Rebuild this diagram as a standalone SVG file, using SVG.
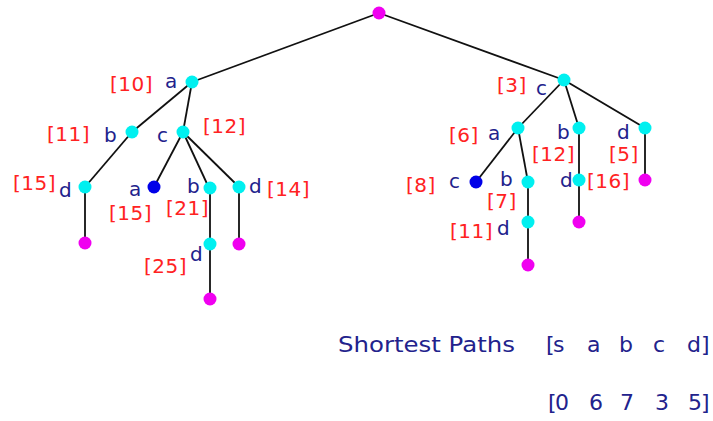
<svg xmlns="http://www.w3.org/2000/svg" width="713" height="421" viewBox="0 0 713 421">
<style>
.e{stroke:#111;stroke-width:1.8;fill:none}
.n{stroke:none}
.cy{fill:#00f0f0}
.mg{fill:#f000f0}
.bl{fill:#0000e8}
.r{font-family:"DejaVu Sans",sans-serif;font-size:20px;fill:#ff2222;letter-spacing:0.5px}
.b{font-family:"DejaVu Sans",sans-serif;font-size:20px;fill:#22228c}
.t{font-family:"DejaVu Sans",sans-serif;font-size:22px;fill:#22228c}
</style>
<rect width="713" height="421" fill="#fff"/>
<g id="edges">
<line class="e" x1="379" y1="13" x2="192" y2="82"/>
<line class="e" x1="379" y1="13" x2="564" y2="80"/>
<line class="e" x1="192" y1="82" x2="132" y2="132"/>
<line class="e" x1="192" y1="82" x2="183" y2="132"/>
<line class="e" x1="132" y1="132" x2="85" y2="187"/>
<line class="e" x1="85" y1="187" x2="85" y2="243"/>
<line class="e" x1="183" y1="132" x2="154" y2="187"/>
<line class="e" x1="183" y1="132" x2="209" y2="188"/>
<line class="e" x1="183" y1="132" x2="239" y2="187"/>
<line class="e" x1="210" y1="188" x2="210" y2="299"/>
<line class="e" x1="239" y1="187" x2="239" y2="244"/>
<line class="e" x1="564" y1="80" x2="518" y2="128"/>
<line class="e" x1="564" y1="80" x2="579" y2="128"/>
<line class="e" x1="564" y1="80" x2="645" y2="128"/>
<line class="e" x1="645" y1="128" x2="645" y2="180"/>
<line class="e" x1="518" y1="128" x2="476" y2="182"/>
<line class="e" x1="518" y1="128" x2="528" y2="182"/>
<line class="e" x1="528" y1="182" x2="528" y2="265"/>
<line class="e" x1="579" y1="128" x2="579" y2="222"/>
</g>
<g id="s"><circle class="n mg" cx="379" cy="13" r="6.5"/></g>
<g id="L-a"><circle class="n cy" cx="192" cy="82" r="6.5"/><text class="r" x="110" y="91">[10]</text><text class="b" x="165" y="88">a</text></g>
<g id="L-b"><circle class="n cy" cx="132" cy="132" r="6.5"/><text class="r" x="47" y="141">[11]</text><text class="b" x="104" y="142">b</text></g>
<g id="L-c"><circle class="n cy" cx="183" cy="132" r="6.5"/><text class="b" x="157" y="142">c</text><text class="r" x="203" y="133">[12]</text></g>
<g id="L-bd"><circle class="n cy" cx="85" cy="187" r="6.5"/><text class="r" x="13" y="190">[15]</text><text class="b" x="59" y="197">d</text></g>
<g id="L-bd-end"><circle class="n mg" cx="85" cy="243" r="6.5"/></g>
<g id="L-ca"><circle class="n bl" cx="154" cy="187" r="6.5"/><text class="b" x="129" y="196">a</text><text class="r" x="109" y="220">[15]</text></g>
<g id="L-cb"><circle class="n cy" cx="210" cy="188" r="6.5"/><text class="b" x="187" y="193">b</text><text class="r" x="166" y="215">[21]</text></g>
<g id="L-cbd"><circle class="n cy" cx="210" cy="244" r="6.5"/><text class="r" x="144" y="273">[25]</text><text class="b" x="190" y="261">d</text></g>
<g id="L-cbd-end"><circle class="n mg" cx="210" cy="299" r="6.5"/></g>
<g id="L-cd"><circle class="n cy" cx="239" cy="187" r="6.5"/><text class="b" x="249" y="193">d</text><text class="r" x="267" y="196">[14]</text></g>
<g id="L-cd-end"><circle class="n mg" cx="239" cy="244" r="6.5"/></g>
<g id="R-c"><circle class="n cy" cx="564" cy="80" r="6.5"/><text class="r" x="497" y="92">[3]</text><text class="b" x="536" y="95">c</text></g>
<g id="R-a"><circle class="n cy" cx="518" cy="128" r="6.5"/><text class="r" x="449" y="142">[6]</text><text class="b" x="488" y="140">a</text></g>
<g id="R-b"><circle class="n cy" cx="579" cy="128" r="6.5"/><text class="b" x="557" y="139">b</text><text class="r" x="532" y="161">[12]</text></g>
<g id="R-d"><circle class="n cy" cx="645" cy="128" r="6.5"/><text class="b" x="617" y="139">d</text><text class="r" x="609" y="161">[5]</text></g>
<g id="R-d-end"><circle class="n mg" cx="645" cy="180" r="6.5"/></g>
<g id="R-ac"><circle class="n bl" cx="476" cy="182" r="6.5"/><text class="r" x="406" y="192">[8]</text><text class="b" x="449" y="188">c</text></g>
<g id="R-ab"><circle class="n cy" cx="528" cy="182" r="6.5"/><text class="b" x="500" y="186">b</text><text class="r" x="487" y="208">[7]</text></g>
<g id="R-abd"><circle class="n cy" cx="528" cy="222" r="6.5"/><text class="r" x="450" y="238">[11]</text><text class="b" x="497" y="235">d</text></g>
<g id="R-abd-end"><circle class="n mg" cx="528" cy="265" r="6.5"/></g>
<g id="R-bd"><circle class="n cy" cx="579" cy="180" r="6.5"/><text class="b" x="560" y="187">d</text><text class="r" x="587" y="188">[16]</text></g>
<g id="R-bd-end"><circle class="n mg" cx="579" cy="222" r="6.5"/></g>
<g id="legend">
<text class="t" x="338" y="352" textLength="177" lengthAdjust="spacingAndGlyphs">Shortest Paths</text>
<text class="t" x="546 553 587 619 653 687 701" y="352">[sabcd]</text>
<text class="t" x="548 555 589 620 655 688 701" y="410">[06735]</text>
</g>
</svg>
